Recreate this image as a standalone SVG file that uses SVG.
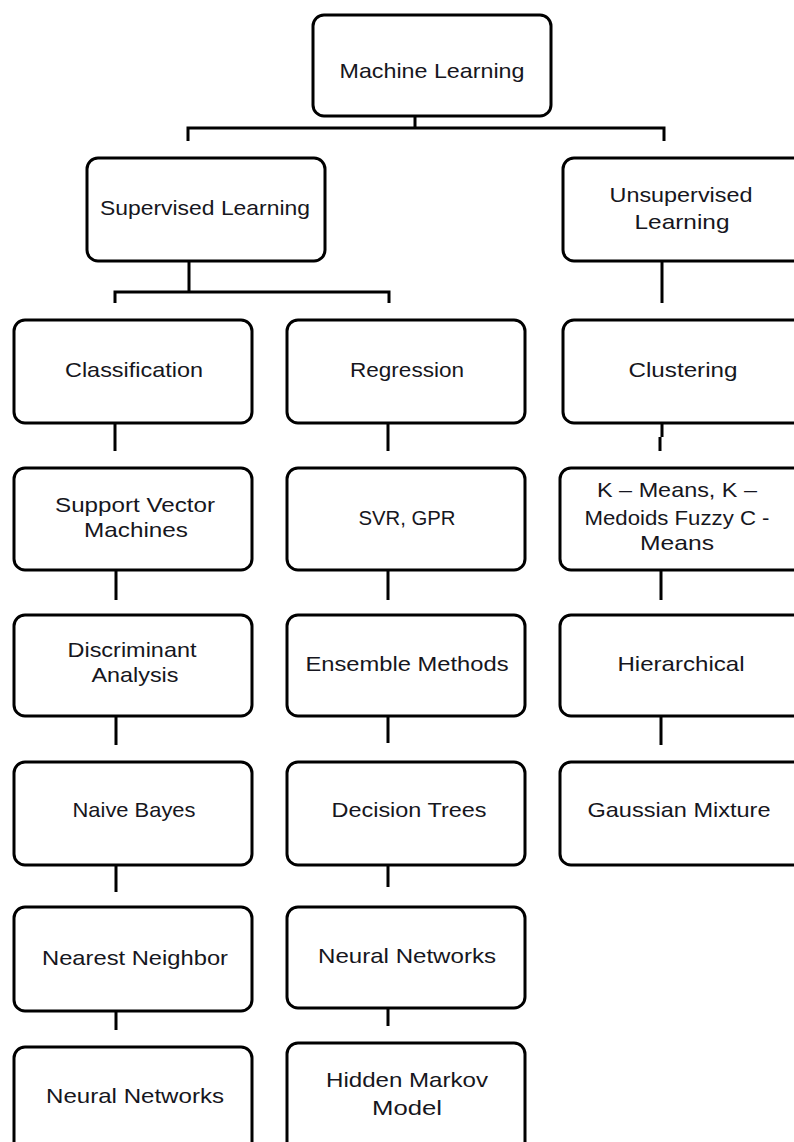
<svg xmlns="http://www.w3.org/2000/svg" width="794" height="1142" viewBox="0 0 794 1142">
  <style>
    .box { fill: #ffffff; stroke: #000000; stroke-width: 3; }
    .wire { fill: none; stroke: #000000; stroke-width: 3; stroke-linecap: butt; }
    .label { font-family: "Liberation Sans", Arial, sans-serif; font-size: 21px; fill: #161620; text-anchor: middle; }
  </style>

  <!-- connectors -->
  <g id="connectors" class="wire">
    <path d="M415 116 V128 M188 141 V128 H664 V141"/>
    <path d="M189 261 V292 M115 303 V292 H389 V303"/>
    <path d="M662 261 V303"/>
    <!-- left column -->
    <path d="M115 423 V451 M116 570 V600 M116 716 V745 M116 865 V892 M116 1011 V1030"/>
    <!-- middle column -->
    <path d="M388 423 V451 M388 570 V600 M388 716 V743 M388 865 V887 M388 1008 V1026"/>
    <!-- right column -->
    <path d="M662 423 V437 M660 437 V451 M661 570 V600 M661 716 V745"/>
  </g>

  <g id="machine-learning">
    <rect class="box" x="313" y="15" width="238" height="101" rx="11"/>
    <text class="label" x="432" y="78" textLength="185" lengthAdjust="spacingAndGlyphs">Machine Learning</text>
  </g>

  <g id="supervised-learning">
    <rect class="box" x="87" y="158" width="238" height="103" rx="11"/>
    <text class="label" x="205" y="215" textLength="210" lengthAdjust="spacingAndGlyphs">Supervised Learning</text>
  </g>

  <g id="unsupervised-learning">
    <rect class="box" x="563" y="158" width="245" height="103" rx="11"/>
    <text class="label" x="681" y="202" textLength="143" lengthAdjust="spacingAndGlyphs">Unsupervised</text>
    <text class="label" x="682" y="229" textLength="95" lengthAdjust="spacingAndGlyphs">Learning</text>
  </g>

  <!-- classification column -->
  <g id="classification">
    <rect class="box" x="14" y="320" width="238" height="103" rx="11"/>
    <text class="label" x="134" y="377" textLength="138" lengthAdjust="spacingAndGlyphs">Classification</text>
  </g>
  <g id="support-vector-machines">
    <rect class="box" x="14" y="468" width="238" height="102" rx="11"/>
    <text class="label" x="135" y="512" textLength="160" lengthAdjust="spacingAndGlyphs">Support Vector</text>
    <text class="label" x="136" y="537" textLength="104" lengthAdjust="spacingAndGlyphs">Machines</text>
  </g>
  <g id="discriminant-analysis">
    <rect class="box" x="14" y="615" width="238" height="101" rx="11"/>
    <text class="label" x="132" y="657" textLength="129" lengthAdjust="spacingAndGlyphs">Discriminant</text>
    <text class="label" x="135" y="682" textLength="87" lengthAdjust="spacingAndGlyphs">Analysis</text>
  </g>
  <g id="naive-bayes">
    <rect class="box" x="14" y="762" width="238" height="103" rx="11"/>
    <text class="label" x="134" y="817" textLength="123" lengthAdjust="spacingAndGlyphs">Naive Bayes</text>
  </g>
  <g id="nearest-neighbor">
    <rect class="box" x="14" y="907" width="238" height="104" rx="11"/>
    <text class="label" x="135" y="965" textLength="186" lengthAdjust="spacingAndGlyphs">Nearest Neighbor</text>
  </g>
  <g id="neural-networks-classification">
    <rect class="box" x="14" y="1047" width="238" height="110" rx="11"/>
    <text class="label" x="135" y="1103" textLength="178" lengthAdjust="spacingAndGlyphs">Neural Networks</text>
  </g>

  <!-- regression column -->
  <g id="regression">
    <rect class="box" x="287" y="320" width="238" height="103" rx="11"/>
    <text class="label" x="407" y="377" textLength="114" lengthAdjust="spacingAndGlyphs">Regression</text>
  </g>
  <g id="svr-gpr">
    <rect class="box" x="287" y="468" width="238" height="102" rx="11"/>
    <text class="label" x="407" y="525" textLength="97" lengthAdjust="spacingAndGlyphs">SVR, GPR</text>
  </g>
  <g id="ensemble-methods">
    <rect class="box" x="287" y="615" width="238" height="101" rx="11"/>
    <text class="label" x="407" y="671" textLength="203" lengthAdjust="spacingAndGlyphs">Ensemble Methods</text>
  </g>
  <g id="decision-trees">
    <rect class="box" x="287" y="762" width="238" height="103" rx="11"/>
    <text class="label" x="409" y="817" textLength="155" lengthAdjust="spacingAndGlyphs">Decision Trees</text>
  </g>
  <g id="neural-networks-regression">
    <rect class="box" x="287" y="907" width="238" height="101" rx="11"/>
    <text class="label" x="407" y="963" textLength="178" lengthAdjust="spacingAndGlyphs">Neural Networks</text>
  </g>
  <g id="hidden-markov-model">
    <rect class="box" x="287" y="1043" width="238" height="114" rx="11"/>
    <text class="label" x="407" y="1087" textLength="162" lengthAdjust="spacingAndGlyphs">Hidden Markov</text>
    <text class="label" x="407" y="1115" textLength="70" lengthAdjust="spacingAndGlyphs">Model</text>
  </g>

  <!-- clustering column -->
  <g id="clustering">
    <rect class="box" x="563" y="320" width="245" height="103" rx="11"/>
    <text class="label" x="683" y="377" textLength="109" lengthAdjust="spacingAndGlyphs">Clustering</text>
  </g>
  <g id="k-means">
    <rect class="box" x="560" y="468" width="248" height="102" rx="11"/>
    <text class="label" x="677" y="497" textLength="160" lengthAdjust="spacingAndGlyphs">K – Means, K –</text>
    <text class="label" x="677" y="525" textLength="185" lengthAdjust="spacingAndGlyphs">Medoids Fuzzy C -</text>
    <text class="label" x="677" y="550" textLength="74" lengthAdjust="spacingAndGlyphs">Means</text>
  </g>
  <g id="hierarchical">
    <rect class="box" x="560" y="615" width="248" height="101" rx="11"/>
    <text class="label" x="681" y="671" textLength="127" lengthAdjust="spacingAndGlyphs">Hierarchical</text>
  </g>
  <g id="gaussian-mixture">
    <rect class="box" x="560" y="762" width="248" height="103" rx="11"/>
    <text class="label" x="679" y="817" textLength="183" lengthAdjust="spacingAndGlyphs">Gaussian Mixture</text>
  </g>
</svg>
